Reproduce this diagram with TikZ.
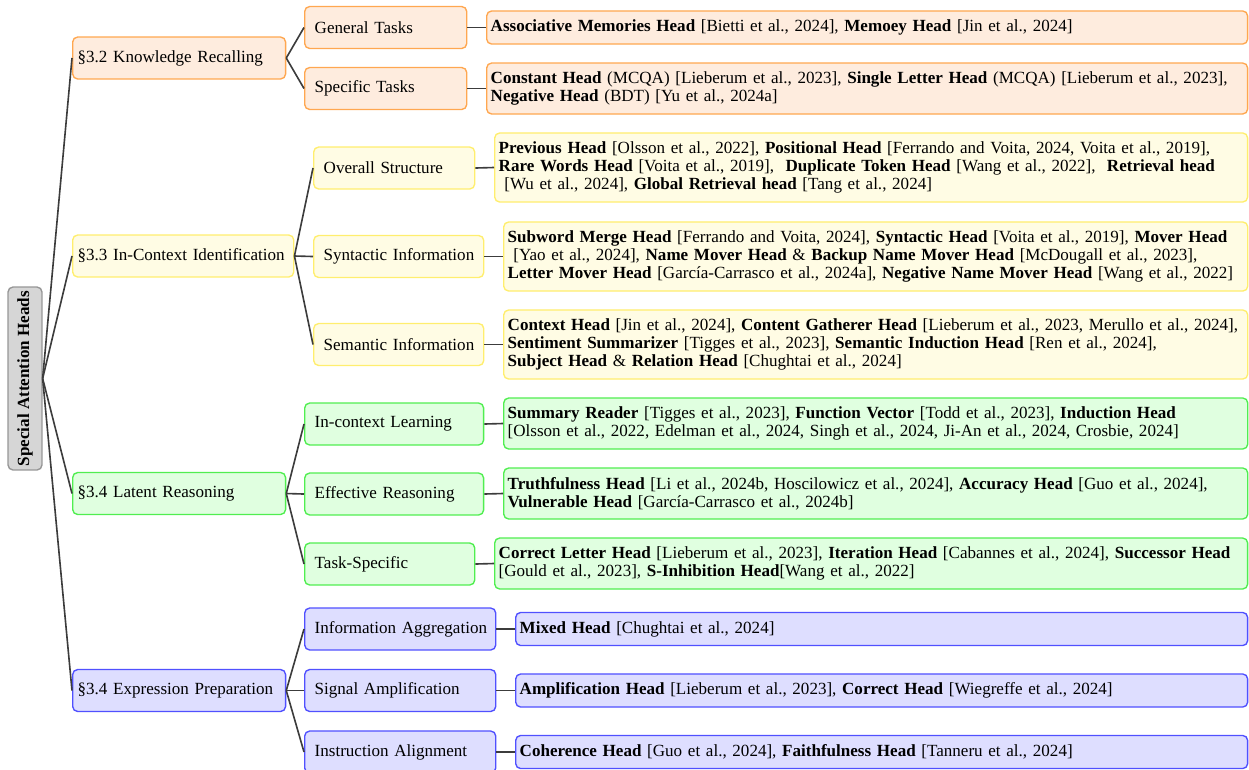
\documentclass[tikz,border=0pt]{standalone}
\usepackage{fontspec}
\setmainfont{Liberation Serif}
\definecolor{orfill}{RGB}{254,236,222}
\definecolor{ordraw}{RGB}{255,167,80}
\definecolor{yefill}{RGB}{255,252,228}
\definecolor{yedraw}{RGB}{255,238,110}
\definecolor{grfill}{RGB}{224,255,224}
\definecolor{grdraw}{RGB}{80,238,80}
\definecolor{blfill}{RGB}{222,222,255}
\definecolor{bldraw}{RGB}{80,80,255}
\definecolor{rtfill}{RGB}{214,214,214}
\definecolor{rtdraw}{RGB}{150,150,150}
\definecolor{linkc}{RGB}{60,60,60}
\begin{document}
\begin{tikzpicture}[x=0.5865pt,y=-0.5865pt,
  every node/.style={font=\fontsize{10}{10.75}\selectfont},
  box/.style={rounded corners=2.9pt, line width=0.8pt, align=left, inner ysep=1pt, anchor=west},
  lone/.style={box, inner xsep=2.93pt, minimum height=24.6pt, text width=#1},
  ltwo/.style={box, inner xsep=5.87pt, minimum height=24.6pt, text width=#1},
  leaf/.style={box, inner xsep=2.35pt, text width=#1},
  hone/.style={minimum height=19.4pt},
  htwo/.style={minimum height=29.9pt},
  hthree/.style={minimum height=40.5pt},
  orc/.style={fill=orfill, draw=ordraw},
  yec/.style={fill=yefill, draw=yedraw},
  grc/.style={fill=grfill, draw=grdraw},
  blc/.style={fill=blfill, draw=bldraw},
  link/.style={draw=linkc, line width=0.95pt},
]
\useasboundingbox (0,0) rectangle (1249,769);

% root
\node[rounded corners=2.9pt, line width=0.8pt, fill=rtfill, draw=rtdraw, rotate=90,
  minimum width=107.3pt, minimum height=19.9pt, inner sep=0pt,
  font=\fontsize{10}{10.75}\selectfont\bfseries] (root) at (25,378.5) {Special Attention Heads};

% level 1
\node[lone=119pt, orc] (kr) at (72,58) {\mbox{\S3.2 Knowledge Recalling}};
\node[lone=123.8pt, yec] (ici) at (72,256) {\mbox{\S3.3 In-Context Identification}};
\node[lone=119pt, grc] (lr) at (72,493.5) {\mbox{\S3.4 Latent Reasoning}};
\node[lone=119pt, blc] (ep) at (72,690.5) {\mbox{\S3.4 Expression Preparation}};

% level 2
\node[ltwo=83.3pt, orc] (gt) at (304,27.5) {\mbox{General Tasks}};
\node[ltwo=83.3pt, orc] (st) at (304,88.5) {\mbox{Specific Tasks}};
\node[ltwo=82.7pt, yec] (os) at (313,168) {\mbox{Overall Structure}};
\node[ltwo=88pt, yec] (si) at (313,256.5) {\mbox{Syntactic Information}};
\node[ltwo=88pt, yec] (sei) at (313,344.5) {\mbox{Semantic Information}};
\node[ltwo=93.2pt, grc] (icl) at (304,424) {\mbox{In-context Learning}};
\node[ltwo=93.2pt, grc] (er) at (304,494) {\mbox{Effective Reasoning}};
\node[ltwo=88pt, grc] (ts) at (304,564) {\mbox{Task-Specific}};
\node[ltwo=100.3pt, blc] (ia) at (304,629) {\mbox{Information Aggregation}};
\node[ltwo=100.3pt, blc] (sa) at (304,690.5) {\mbox{Signal Amplification}};
\node[ltwo=100.3pt, blc] (ina) at (304,752) {\mbox{Instruction Alignment}};

% leaves
\node[leaf=441.6pt, orc, hone] (l1) at (486,27.5) {\textbf{Associative Memories Head} [Bietti et al., 2024], \textbf{Memoey Head} [Jin et al., 2024]};
\node[leaf=441.6pt, orc, htwo] (l2) at (486,88.5) {\textbf{Constant Head} (MCQA) [Lieberum et al., 2023], \textbf{Single Letter Head} (MCQA) [Lieberum et al., 2023],\\ \textbf{Negative Head} (BDT) [Yu et al., 2024a]};
\node[leaf=436.9pt, yec, hthree] (l3) at (494,167.5) {\textbf{Previous Head} [Olsson et al., 2022], \textbf{Positional Head} [Ferrando and Voita, 2024, Voita et al., 2019],\\ \textbf{Rare Words Head} [Voita et al., 2019],\ \ \textbf{Duplicate Token Head} [Wang et al., 2022],\ \ \textbf{Retrieval head}\\{} \ [Wu et al., 2024], \textbf{Global Retrieval head} [Tang et al., 2024]};
\node[leaf=431.7pt, yec, hthree] (l4) at (503,256.5) {\textbf{Subword Merge Head} [Ferrando and Voita, 2024], \textbf{Syntactic Head} [Voita et al., 2019], \textbf{Mover Head}\\{} \ [Yao et al., 2024], \textbf{Name Mover Head} \& \textbf{Backup Name Mover Head} [McDougall et al., 2023],\\ \textbf{Letter Mover Head} [García-Carrasco et al., 2024a], \textbf{Negative Name Mover Head} [Wang et al., 2022]};
\node[leaf=431.7pt, yec, hthree] (l5) at (503,344.5) {\textbf{Context Head} [Jin et al., 2024], \textbf{Content Gatherer Head} [Lieberum et al., 2023, Merullo et al., 2024],\\ \textbf{Sentiment Summarizer} [Tigges et al., 2023], \textbf{Semantic Induction Head} [Ren et al., 2024],\\ \textbf{Subject Head} \& \textbf{Relation Head} [Chughtai et al., 2024]};
\node[leaf=431.7pt, grc, htwo] (l6) at (503,423.5) {\textbf{Summary Reader} [Tigges et al., 2023], \textbf{Function Vector} [Todd et al., 2023], \textbf{Induction Head}\\{}[Olsson et al., 2022, Edelman et al., 2024, Singh et al., 2024, Ji-An et al., 2024, Crosbie, 2024]};
\node[leaf=431.7pt, grc, htwo] (l7) at (503,493.5) {\textbf{Truthfulness Head} [Li et al., 2024b, Hoscilowicz et al., 2024], \textbf{Accuracy Head} [Guo et al., 2024],\\ \textbf{Vulnerable Head} [García-Carrasco et al., 2024b]};
\node[leaf=436.9pt, grc, htwo] (l8) at (494,563.5) {\textbf{Correct Letter Head} [Lieberum et al., 2023], \textbf{Iteration Head} [Cabannes et al., 2024], \textbf{Successor Head}\\{}[Gould et al., 2023], \textbf{S-Inhibition Head}[Wang et al., 2022]};
\node[leaf=424.6pt, blc, hone] (l9) at (515,629) {\textbf{Mixed Head} [Chughtai et al., 2024]};
\node[leaf=424.6pt, blc, hone] (l10) at (515,690.5) {\textbf{Amplification Head} [Lieberum et al., 2023], \textbf{Correct Head} [Wiegreffe et al., 2024]};
\node[leaf=424.6pt, blc, hone] (l11) at (515,752) {\textbf{Coherence Head} [Guo et al., 2024], \textbf{Faithfulness Head} [Tanneru et al., 2024]};

% connectors
\foreach \c in {kr,ici,lr,ep} \draw[link] (root.south) -- (\c.west);
\foreach \c in {gt,st} \draw[link] (kr.east) -- (\c.west);
\foreach \c in {os,si,sei} \draw[link] (ici.east) -- (\c.west);
\foreach \c in {icl,er,ts} \draw[link] (lr.east) -- (\c.west);
\foreach \c in {ia,sa,ina} \draw[link] (ep.east) -- (\c.west);
\draw[link] (gt.east) -- (l1.west);
\draw[link] (st.east) -- (l2.west);
\draw[link] (os.east) -- (l3.west);
\draw[link] (si.east) -- (l4.west);
\draw[link] (sei.east) -- (l5.west);
\draw[link] (icl.east) -- (l6.west);
\draw[link] (er.east) -- (l7.west);
\draw[link] (ts.east) -- (l8.west);
\draw[link] (ia.east) -- (l9.west);
\draw[link] (sa.east) -- (l10.west);
\draw[link] (ina.east) -- (l11.west);
\end{tikzpicture}
\end{document}
